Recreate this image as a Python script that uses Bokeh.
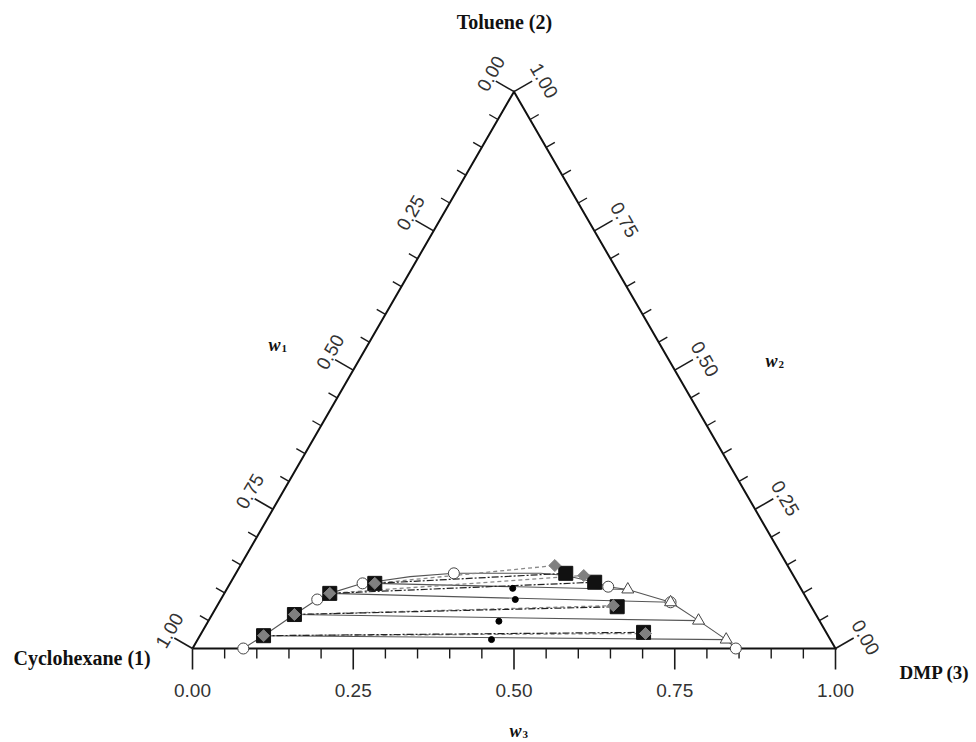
import numpy as np
from bokeh.plotting import figure
from bokeh.models import Range1d
from bokeh.embed import file_html
from bokeh.resources import INLINE
from bokeh.core.properties import value

# ---------------- data (mass fractions w3 = DMP, w2 = toluene) ----------------
tick_values = [0.0, 0.25, 0.50, 0.75, 1.0]
tick_labels = ["0.00", "0.25", "0.50", "0.75", "1.00"]
minor_values = [0.05, 0.10, 0.15, 0.20, 0.30, 0.35, 0.40, 0.45,
                0.55, 0.60, 0.65, 0.70, 0.80, 0.85, 0.90, 0.95]

# binodal curve (smooth line)
binodal_w3 = [0.079, 0.099, 0.128, 0.150, 0.164, 0.206, 0.223, 0.274, 0.339, 0.412,
              0.474, 0.515, 0.566, 0.591, 0.624, 0.702, 0.762, 0.822, 0.845]
binodal_w2 = [0.000, 0.023, 0.061, 0.088, 0.099, 0.117, 0.120, 0.129, 0.135, 0.135,
              0.135, 0.131, 0.119, 0.111, 0.106, 0.083, 0.050, 0.016, 0.000]

# binodal data points (open circles)
circle_w3 = [0.079, 0.150, 0.206, 0.339, 0.591, 0.702, 0.845]
circle_w2 = [0.000, 0.088, 0.117, 0.135, 0.111, 0.083, 0.000]

# raffinate phase (left ends of tie lines)
raff_w3 = [0.099, 0.128, 0.164, 0.225]
raff_w2 = [0.023, 0.061, 0.099, 0.117]

# extract phase, open triangles (solid tie lines)
tri_w3 = [0.822, 0.762, 0.702, 0.624]
tri_w2 = [0.016, 0.050, 0.083, 0.106]

# extract phase, black squares (dash-dot tie lines)
sq_w3 = [0.687, 0.623, 0.566, 0.513]
sq_w2 = [0.029, 0.075, 0.119, 0.135]

# extract phase, grey diamonds (dashed tie lines)
dm_w3 = [0.691, 0.616, 0.543, 0.489]
dm_w2 = [0.027, 0.077, 0.131, 0.149]

# feed points (black dots)
feed_w3 = [0.457, 0.452, 0.458, 0.444]
feed_w2 = [0.016, 0.049, 0.088, 0.108]

# ---------------- geometry ----------------
S3 = np.sqrt(3) / 2.0


def tern(w3, w2):
    w3 = np.asarray(w3, dtype=float)
    w2 = np.asarray(w2, dtype=float)
    return w3 + w2 / 2.0, w2 * S3


W, H = 976, 742
SC = 643.0              # pixels per unit side
OX, OY = 192.0, 648.0   # pixel of the Cyclohexane corner


def px(sx, sy):
    return (sx - OX) / SC, (OY - sy) / SC


xa, ya = px(0, 0)
xb, yb = px(W, H)

p = figure(width=W, height=H, x_range=Range1d(xa, xb), y_range=Range1d(yb, ya),
           x_axis_type=None, y_axis_type=None, output_backend="svg",
           toolbar_location=None, min_border=0)
p.outline_line_color = None
p.grid.visible = False
p.background_fill_color = "white"
p.border_fill_color = "white"

# ---------------- tie lines & curve ----------------
bx, by = tern(binodal_w3, binodal_w2)
p.line(bx, by, line_color="#555555", line_width=1.1)

rx, ry = tern(raff_w3, raff_w2)
tx, ty = tern(tri_w3, tri_w2)
qx, qy = tern(sq_w3, sq_w2)
dx, dy = tern(dm_w3, dm_w2)

p.multi_line([[rx[i], tx[i]] for i in range(4)], [[ry[i], ty[i]] for i in range(4)],
             line_color="#555555", line_width=1.1)
p.multi_line([[rx[i], dx[i]] for i in range(4)], [[ry[i], dy[i]] for i in range(4)],
             line_color="#888888", line_width=1.3, line_dash="4 3")
p.multi_line([[rx[i], qx[i]] for i in range(4)], [[ry[i], qy[i]] for i in range(4)],
             line_color="#222222", line_width=1.2, line_dash="7 2 2 2")

# ---------------- triangle frame & ticks ----------------
p.line([0, 1, 0.5, 0], [0, 0, S3, 0], line_color="#111111", line_width=2, line_join="miter")

MAJ, MIN = 21.0 / SC, 10.0 / SC


def edge_ticks(vals, length):
    x0, y0, x1, y1 = [], [], [], []
    for v in vals:
        # bottom (w3)
        x0.append(v); y0.append(0.0); x1.append(v); y1.append(-length)
        # left (w1): w1 = v
        lx, ly = (1 - v) / 2.0, (1 - v) * S3
        x0.append(lx); y0.append(ly); x1.append(lx - S3 * length); y1.append(ly + 0.5 * length)
        # right (w2): w2 = v
        rx_, ry_ = 1 - v / 2.0, v * S3
        x0.append(rx_); y0.append(ry_); x1.append(rx_ + S3 * length); y1.append(ry_ + 0.5 * length)
    return x0, y0, x1, y1


a = edge_ticks(tick_values, MAJ)
p.segment(a[0], a[1], a[2], a[3], line_color="#1a1a1a", line_width=1.6)
b = edge_ticks(minor_values, MIN)
p.segment(b[0], b[1], b[2], b[3], line_color="#1a1a1a", line_width=1.4)

# tick labels
tv = np.array(tick_values)
lab_font = value("Liberation Sans")
lab_size = value("19px")
p.text(tv, np.full(len(tv), -42.0 / SC), text=tick_labels, text_align="center",
       text_baseline="middle", text_font=lab_font, text_font_size=lab_size, text_color="#333333")
p.text((1 - tv) / 2.0 - 23.0 / SC, (1 - tv) * S3 + 18.0 / SC, text=tick_labels, angle=np.pi / 3,
       text_align="center", text_baseline="middle", text_font=lab_font,
       text_font_size=lab_size, text_color="#333333")
p.text(1 - tv / 2.0 + 30.0 / SC, tv * S3 + 11.0 / SC, text=tick_labels, angle=-np.pi / 3,
       text_align="center", text_baseline="middle", text_font=lab_font,
       text_font_size=lab_size, text_color="#333333")

# ---------------- markers ----------------
cx, cy = tern(circle_w3, circle_w2)
p.scatter(cx, cy, marker="circle", size=11, fill_color="white", line_color="#444444", line_width=1)
p.scatter(tx, ty, marker="triangle", size=12, fill_color="white", line_color="#444444", line_width=1)
fx, fy = tern(feed_w3, feed_w2)
p.scatter(fx, fy, marker="circle", size=6, fill_color="black", line_color="black")
p.scatter(np.concatenate([rx, qx]), np.concatenate([ry, qy]), marker="square", size=14,
          fill_color="#111111", line_color="#111111")
# grey rhombi (square rotated 45 degrees)
p.scatter(np.concatenate([rx, dx]), np.concatenate([ry, dy]), marker="square", size=8.5,
          angle=np.pi / 4, fill_color="#808080", line_color="#808080")

# ---------------- titles ----------------
serif = value("Liberation Serif")
t_size = value("20px")
x, y = px(504, 21)
p.text([x], [y], text=["Toluene (2)"], text_align="center", text_baseline="middle",
       text_font=serif, text_font_size=t_size, text_font_style="bold", text_color="#111111")
x, y = px(13, 657)
p.text([x], [y], text=["Cyclohexane (1)"], text_align="left", text_baseline="middle",
       text_font=serif, text_font_size=t_size, text_font_style="bold", text_color="#111111")
x, y = px(899, 672)
p.text([x], [y], text=["DMP (3)"], text_align="left", text_baseline="middle",
       text_font=serif, text_font_size=value("19px"), text_font_style="bold", text_color="#111111")

# w labels: italic w with subscript
for (sx, sy, sub) in [(268, 344, "1"), (765, 360, "2"), (509, 730, "3")]:
    x, y = px(sx, sy)
    p.text([x], [y], text=["w"], text_align="left", text_baseline="middle",
           text_font=serif, text_font_size=value("18px"), text_font_style="bold italic",
           text_color="#111111")
    x2, y2 = px(sx + 13, sy + 4)
    p.text([x2], [y2], text=[sub], text_align="left", text_baseline="middle",
           text_font=serif, text_font_size=value("11px"), text_font_style="bold",
           text_color="#111111")

open("out.html", "w").write(file_html(p, INLINE))
